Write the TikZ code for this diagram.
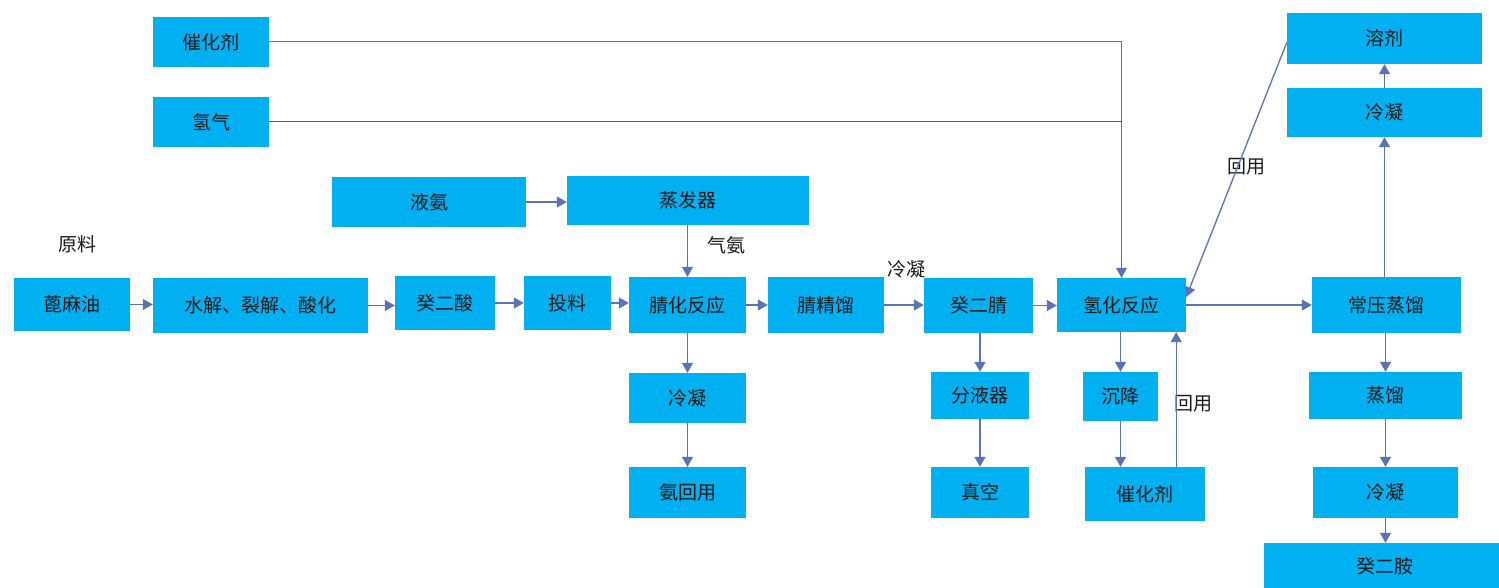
\documentclass[tikz,border=0pt]{standalone}
\usepackage{fontspec}
\setmainfont{Noto Sans CJK SC}
\usetikzlibrary{arrows.meta}
\definecolor{boxblue}{HTML}{00B0F0}
\definecolor{linkblue}{HTML}{5A72B6}

\begin{document}
\begin{tikzpicture}[x=1pt, y=-1pt,
    box/.style={fill=boxblue, inner sep=0pt, text=black!90, font=\fontsize{19}{22}\selectfont},
    note/.style={inner sep=0pt, text=black!90, font=\fontsize{19}{22}\selectfont},
    link/.style={draw=linkblue, line width=1.3pt, -{Triangle[width=11pt,length=10pt]}},
    feed/.style={draw=linkblue!80!black, line width=1pt}]
  \useasboundingbox (0,0) rectangle (1499,588);

  % upper feeds
  \node[box, minimum width=116pt, minimum height=50pt] (cat1) at (211,42) {催化剂};
  \node[box, minimum width=116pt, minimum height=50pt] (h2) at (211,122) {氢气};
  \node[box, minimum width=194pt, minimum height=50pt] (lnh3) at (429,202) {液氨};
  \node[box, minimum width=242pt, minimum height=49pt] (evap) at (688,200.5) {蒸发器};

  % main line
  \node[note] (raw) at (77,244) {原料};
  \node[box, minimum width=116pt, minimum height=53pt] (oil) at (72,304.5) {蓖麻油};
  \node[box, minimum width=215pt, minimum height=55pt] (hydro) at (260.5,305.5) {水解、裂解、酸化};
  \node[box, minimum width=100pt, minimum height=54pt] (seb) at (445,303) {癸二酸};
  \node[box, minimum width=87pt, minimum height=54pt] (load) at (567.5,303) {投料};
  \node[box, minimum width=117pt, minimum height=56pt] (nitr) at (687.5,305) {腈化反应};
  \node[box, minimum width=116pt, minimum height=56pt] (ndist) at (826,305) {腈精馏};
  \node[box, minimum width=109pt, minimum height=55pt] (dn) at (978.5,305.5) {癸二腈};
  \node[box, minimum width=129pt, minimum height=54pt] (hyd) at (1121.5,305) {氢化反应};
  \node[box, minimum width=149pt, minimum height=56pt] (atm) at (1386.5,305) {常压蒸馏};

  % right column
  \node[box, minimum width=195pt, minimum height=51pt] (solv) at (1384.5,38.5) {溶剂};
  \node[box, minimum width=195pt, minimum height=49pt] (condR) at (1384.5,112.5) {冷凝};

  % lower branches
  \node[box, minimum width=117pt, minimum height=50pt] (cond1) at (687.5,398) {冷凝};
  \node[box, minimum width=117pt, minimum height=51pt] (nh3r) at (687.5,492.5) {氨回用};
  \node[box, minimum width=98pt, minimum height=47pt] (sep) at (980,395.5) {分液器};
  \node[box, minimum width=98pt, minimum height=51pt] (vac) at (980,492.5) {真空};
  \node[box, minimum width=75pt, minimum height=49pt] (settle) at (1120.5,396.5) {沉降};
  \node[box, minimum width=120pt, minimum height=54pt] (cat2) at (1145,494) {催化剂};
  \node[box, minimum width=153pt, minimum height=47pt] (dist) at (1385.5,395.5) {蒸馏};
  \node[box, minimum width=145pt, minimum height=51pt] (cond2) at (1385.5,492.5) {冷凝};
  \node[box, minimum width=242pt, minimum height=46pt] (dia) at (1385,566) {癸二胺};

  % text labels
  \node[note] (gas) at (726,245) {气氨};
  \node[note] (cool) at (906,269) {冷凝};
  \node[note] (reuse1) at (1246,167) {回用};
  \node[note] (reuse2) at (1193,404) {回用};

  \draw[feed, -{Triangle[width=11pt,length=10pt]}, linkblue] (cat1.east) -| (hyd.north);
  \draw[feed] (h2.east) -- (h2.east -| hyd.north);
  \draw[link] (lnh3.east) -- (lnh3.east -| evap.west);
  \draw[link] (nitr.north |- evap.south) -- (nitr.north);

  \draw[link] (oil.east) -- (oil.east -| hydro.west);
  \draw[link] (hydro.east) -- (hydro.east -| seb.west);
  \draw[link] (seb.east) -- (seb.east -| load.west);
  \draw[link] (load.east) -- (load.east -| nitr.west);
  \draw[link] (nitr.east) -- (nitr.east -| ndist.west);
  \draw[link] (ndist.east) -- (ndist.east -| dn.west);
  \draw[link] (dn.east) -- (dn.east -| hyd.west);
  \draw[link] (hyd.east) -- (hyd.east -| atm.west);

  \draw[link] ([yshift=-4pt]solv.west) -- ([yshift=8pt]hyd.east);
  \draw[link] (atm.north -| condR.south) -- (condR.south);
  \draw[link] (condR.north) -- (solv.south);

  \draw[link] (nitr) -- (cond1);
  \draw[link] (cond1) -- (nh3r);
  \draw[link] (dn.south -| sep.north) -- (sep.north);
  \draw[link] (sep) -- (vac);
  \draw[link] (hyd.south -| settle.north) -- (settle.north);
  \draw[link] (settle.south) -- (settle.south |- cat2.north);
  \draw[link] ([xshift=-29pt]cat2.north east) -- ([xshift=-29pt]cat2.north east |- hyd.south);

  \draw[link] (atm.south -| dist.north) -- (dist.north);
  \draw[link] (dist) -- (cond2);
  \draw[link] (cond2.south) -- (cond2.south |- dia.north);
\end{tikzpicture}
\end{document}
